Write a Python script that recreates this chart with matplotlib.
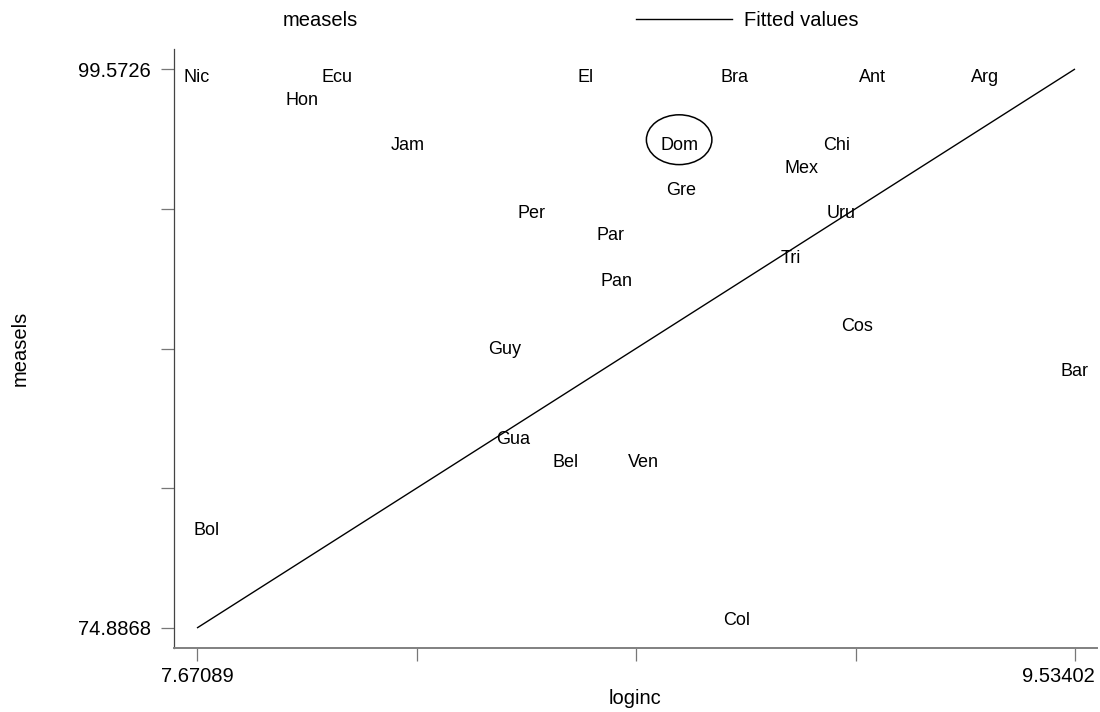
import matplotlib
matplotlib.use('Agg')
import matplotlib.pyplot as plt
import numpy as np
from matplotlib.lines import Line2D
from matplotlib.patches import Ellipse
from matplotlib.transforms import ScaledTranslation

# ---- data ----
countries = ['Nic', 'Ecu', 'Hon', 'El', 'Bra', 'Ant', 'Arg', 'Jam', 'Dom', 'Chi',
             'Mex', 'Gre', 'Per', 'Uru', 'Par', 'Tri', 'Pan', 'Cos', 'Guy', 'Bar',
             'Gua', 'Bel', 'Ven', 'Bol', 'Col']
loginc = [7.671, 7.968, 7.894, 8.496, 8.812, 9.105, 9.343, 8.119, 8.694, 9.029,
          8.953, 8.698, 8.380, 9.037, 8.549, 8.931, 8.562, 9.071, 8.324, 9.534,
          8.341, 8.454, 8.619, 7.692, 8.815]
measels = [99, 99, 98, 99, 99, 99, 99, 96, 96, 96,
           95, 94, 93, 93, 92, 91, 90, 88, 87, 86,
           83, 82, 82, 79, 75]
fit_loginc = [7.67089, 9.53402]
fit_measels = [74.8868, 99.5726]
x_tick_labels = ['7.67089', '', '', '', '9.53402']
y_tick_labels = ['74.8868', '', '', '', '99.5726']
highlight = 'Dom'

plt.rcParams['font.family'] = ['Liberation Sans', 'DejaVu Sans']

W, H = 1100, 712
fig = plt.figure(figsize=(W / 100, H / 100), dpi=100)
fig.patch.set_facecolor('white')
ax = fig.add_axes([174 / W, 1 - 648 / H, (1097 - 174) / W, (648 - 49) / H])

# fitted line
ax.plot(fit_loginc, fit_measels, color='black', lw=1.0, solid_capstyle='butt')

# labelled points (no marker)
for c, xv, yv in zip(countries, loginc, measels):
    ax.text(xv, yv, c, ha='center', va='baseline', fontsize=13, color='black')

# circle around highlighted label
i = countries.index(highlight)
ax.add_patch(Ellipse((loginc[i], measels[i] + 0.45), 0.139, 2.2,
                     fill=False, edgecolor='black', lw=1.1))

# limits with Stata-like margins
xlo, xhi = fit_loginc
ylo, yhi = fit_measels
ax.set_xlim(xlo - (xhi - xlo) * 23 / 878, xhi + (xhi - xlo) * 22 / 878)
ax.set_ylim(ylo - (yhi - ylo) * 20 / 559, yhi + (yhi - ylo) * 20 / 559)

ax.set_xticks(np.linspace(xlo, xhi, 5))
ax.set_xticklabels(x_tick_labels)
ax.set_yticks(np.linspace(ylo, yhi, 5))
ax.set_yticklabels(y_tick_labels)

ax.tick_params(axis='both', direction='out', length=9.5, width=0.9,
               color='#777777', labelsize=14.5)
ax.tick_params(axis='y', pad=7)
ax.tick_params(axis='x', pad=4)

# shift last x tick label to the left like the reference
lbl = ax.get_xticklabels()[-1]
lbl.set_ha('right')
lbl.set_transform(lbl.get_transform() + ScaledTranslation(20 / 100, 0, fig.dpi_scale_trans))

for s in ['top', 'right']:
    ax.spines[s].set_visible(False)
ax.spines['bottom'].set_color('#808080')
ax.spines['bottom'].set_linewidth(1.4)
ax.spines['left'].set_color('#444444')
ax.spines['left'].set_linewidth(0.9)

ax.set_xlabel('loginc', fontsize=14.5, labelpad=2)
ax.set_ylabel('measels', fontsize=14.5)
ax.yaxis.set_label_coords(-(174 - 20) / 923, 0.5)
ax.yaxis.label.set_va('center')

# legend
fs = 14.5
fs_px = fs * 100 / 72
ax.legend([Line2D([], [], linestyle='none'), Line2D([], [], color='black', lw=1.0)],
          ['measels', 'Fitted values'], loc='center left',
          bbox_to_anchor=(175 / W, 1 - 21 / H), bbox_transform=fig.transFigure,
          ncol=2, frameon=False, fontsize=fs, handlelength=96 / fs_px,
          handletextpad=12 / fs_px, columnspacing=(636 - 358) / fs_px,
          borderpad=0, borderaxespad=0)

fig.savefig('out.png', dpi=100, facecolor='white')
